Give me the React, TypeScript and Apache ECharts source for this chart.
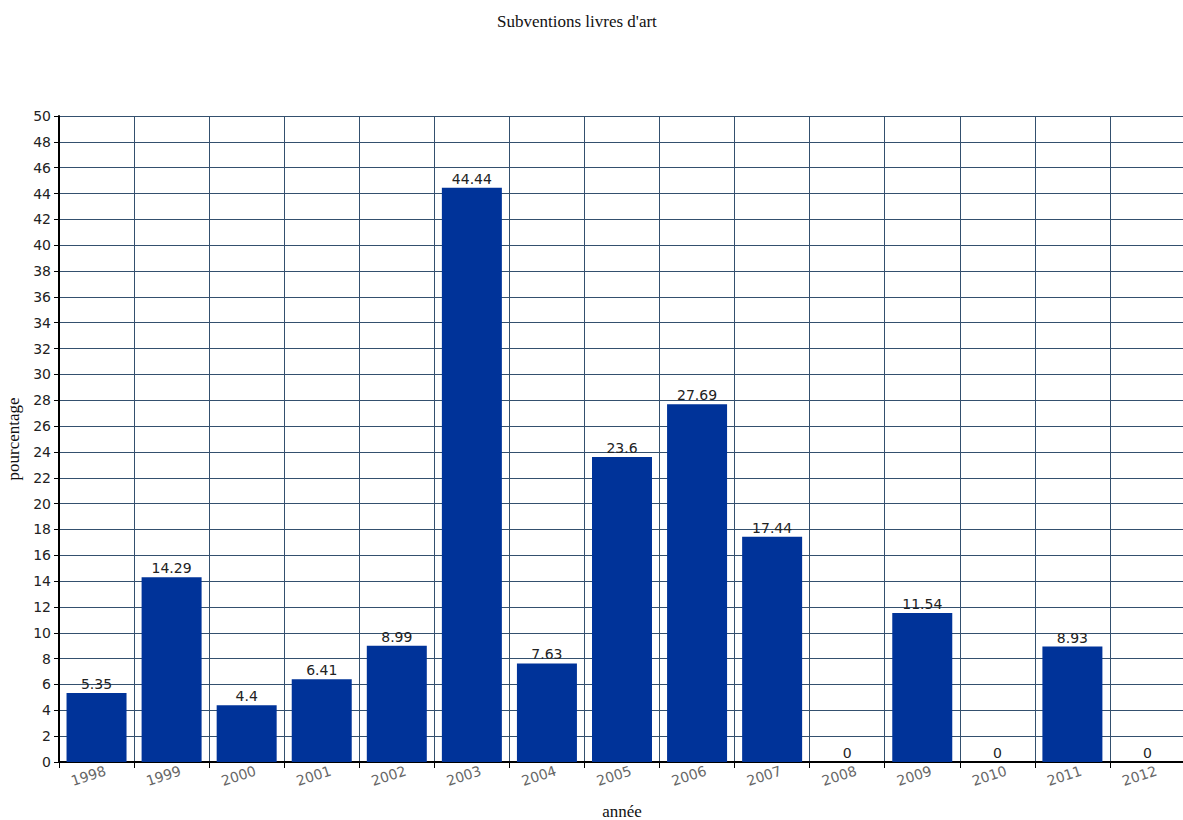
import React, { useEffect, useRef } from "react";
import * as echarts from "echarts";

const years = ["1998","1999","2000","2001","2002","2003","2004","2005","2006","2007","2008","2009","2010","2011","2012"];
const values = [5.35, 14.29, 4.4, 6.41, 8.99, 44.44, 7.63, 23.6, 27.69, 17.44, 0, 11.54, 0, 8.93, 0];
const titleText = "Subventions livres d'art";
const yName = "pourcentage";
const xName = "année";

export default function App() {
  const ref = useRef<HTMLDivElement>(null);
  useEffect(() => {
    if (!ref.current) return;
    const chart = echarts.init(ref.current, null, { renderer: "svg" });
    chart.setOption({
      animation: false,
      backgroundColor: "#ffffff",
      title: {
        text: titleText,
        left: 492,
        top: 8,
        textStyle: { fontFamily: "Liberation Serif", fontSize: 17, fontWeight: "normal", color: "#111" },
      },
      grid: { left: 59, top: 116, width: 1126, height: 646, containLabel: false, outerBoundsMode: "none" },
      xAxis: {
        type: "category",
        data: years,
        name: xName,
        nameLocation: "middle",
        nameGap: 41,
        nameTextStyle: { fontFamily: "Liberation Serif", fontSize: 17, color: "#111" },
        axisLine: { show: true, lineStyle: { color: "#000", width: 2 } },
        axisTick: { show: true, length: 6, lineStyle: { color: "#000", width: 1 } },
        axisLabel: {
          rotate: 18,
          align: "center",
          padding: [0, 17, 0, 0],
          margin: 11,
          fontFamily: "DejaVu Sans",
          fontSize: 14,
          color: "#666",
        },
        splitLine: { show: true, lineStyle: { color: "#34506e", width: 1 } },
      },
      yAxis: {
        type: "value",
        min: 0,
        max: 50,
        interval: 2,
        name: yName,
        nameLocation: "middle",
        nameGap: 35,
        nameTextStyle: { fontFamily: "Liberation Serif", fontSize: 17, color: "#111" },
        axisLine: { show: true, lineStyle: { color: "#000", width: 2 } },
        axisTick: { show: true, length: 5, lineStyle: { color: "#000", width: 1 } },
        axisLabel: { fontFamily: "DejaVu Sans", fontSize: 14, color: "#222", margin: 8 },
        splitLine: { show: true, lineStyle: { color: "#34506e", width: 1 } },
      },
      series: [
        {
          type: "bar",
          data: values,
          barWidth: 60,
          itemStyle: { color: "#003399" },
          label: {
            show: true,
            position: "top",
            distance: 2,
            fontFamily: "DejaVu Sans",
            fontSize: 14,
            color: "#222",
          },
        },
      ],
    });
    return () => chart.dispose();
  }, []);
  return (
    <div
      ref={ref}
      style={{ position: "fixed", left: 0, top: 0, width: 1183, height: 820 }}
    />
  );
}
